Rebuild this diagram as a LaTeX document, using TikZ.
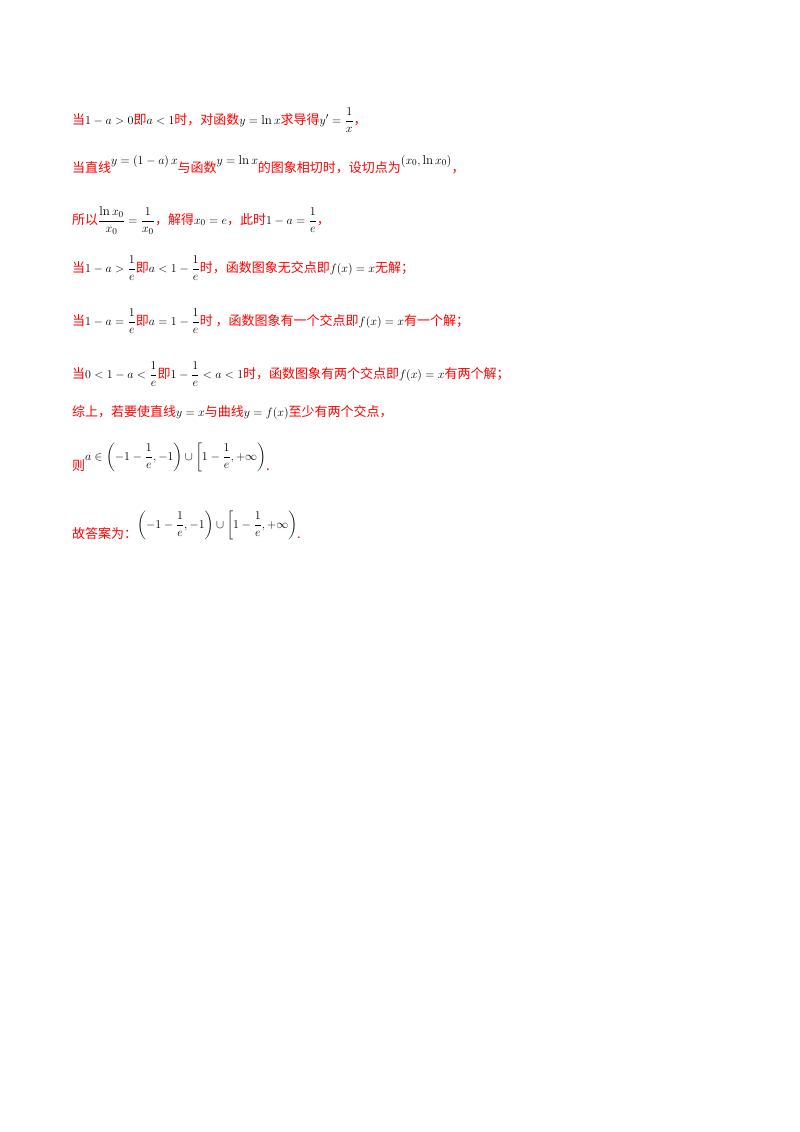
\documentclass[tikz,border=0pt]{standalone}
\usepackage{amsmath}
\usepackage{fontspec}
\newfontfamily\cjk{Noto Sans CJK SC}
\begin{document}
\begin{tikzpicture}[x=1pt,y=-1pt,
 ln/.style={anchor=base west,inner sep=0pt,font=\fontsize{13}{16}\selectfont}]
\useasboundingbox (0,0) rectangle (800,1132);
\newcommand\zh[1]{\textcolor{red}{\cjk #1}}
\node[ln] (l1) at (72,124) {\zh{当}$1-a>0$\zh{即}$a<1$\zh{时，对函数}$y=\ln x$\zh{求导得}$y'=\dfrac{1}{x}$\zh{，}};
\node[ln] (l2) at (72,172) {\zh{当直线}\raisebox{8pt}{$y=\left(1-a\right)x$}\zh{与函数}\raisebox{8pt}{$y=\ln x$}\zh{的图象相切时，设切点为}\raisebox{8pt}{$\left(x_0,\ln x_0\right)$}\zh{，}};
\node[ln] (l3) at (72,224) {\zh{所以}$\dfrac{\ln x_0}{x_0}=\dfrac{1}{x_0}$\zh{，解得}$x_0=e$\zh{，此时}$1-a=\dfrac{1}{e}$\zh{，}};
\node[ln] (l4) at (72,272) {\zh{当}$1-a>\dfrac{1}{e}$\zh{即}$a<1-\dfrac{1}{e}$\zh{时，函数图象无交点即}$f(x)=x$\zh{无解；}};
\node[ln] (l5) at (72,325) {\zh{当}$1-a=\dfrac{1}{e}$\zh{即}$a=1-\dfrac{1}{e}$\zh{时 ，函数图象有一个交点即}$f(x)=x$\zh{有一个解；}};
\node[ln] (l6) at (72,378) {\zh{当}$0<1-a<\dfrac{1}{e}$\zh{即}$1-\dfrac{1}{e}<a<1$\zh{时，函数图象有两个交点即}$f(x)=x$\zh{有两个解；}};
\node[ln] (l7) at (72,416) {\zh{综上，若要使直线}$y=x$\zh{与曲线}$y=f(x)$\zh{至少有两个交点，}};
\node[ln] (l8) at (72,470) {\zh{则}\raisebox{10pt}{$a\in\left(-1-\dfrac{1}{e},-1\right)\cup\left[1-\dfrac{1}{e},+\infty\right)$}\zh{.}};
\node[ln] (l9) at (72,538) {\zh{故答案为：}\raisebox{10pt}{$\left(-1-\dfrac{1}{e},-1\right)\cup\left[1-\dfrac{1}{e},+\infty\right)$}\zh{.}};
\end{tikzpicture}
\end{document}
